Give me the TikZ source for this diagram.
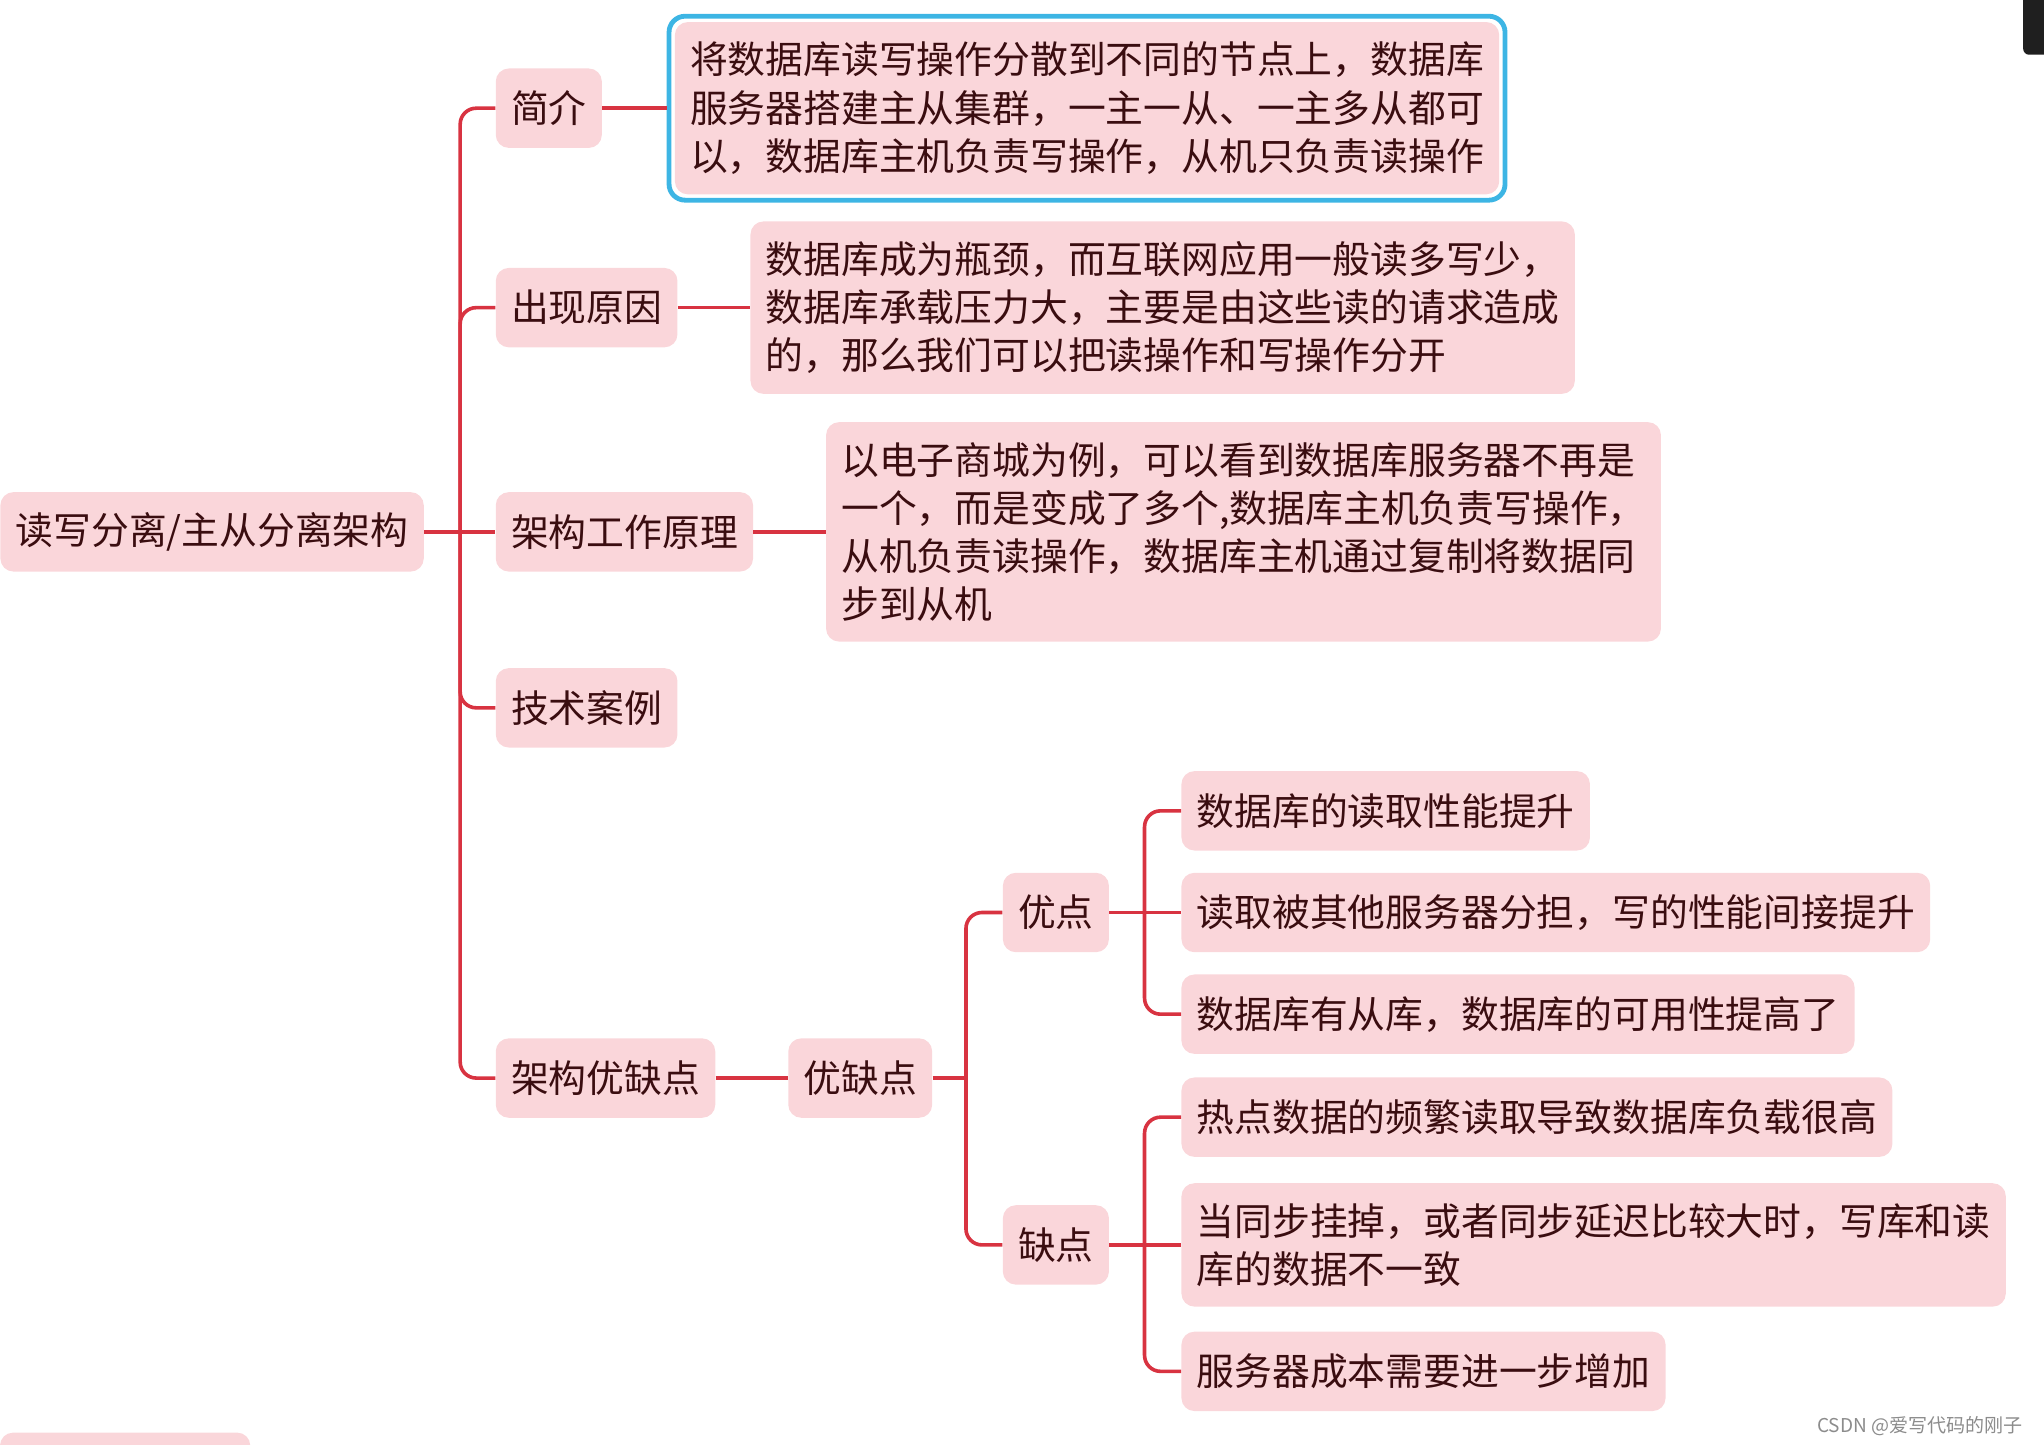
\documentclass[tikz,border=0pt]{standalone}
\usepackage{fontspec}
\newfontfamily\cjk{Noto Sans CJK SC}
\usetikzlibrary{positioning, fit}
\definecolor{mapPink}{HTML}{FAD6DA}
\definecolor{mapRed}{HTML}{D83341}
\definecolor{mapText}{HTML}{3A0D10}
\definecolor{selBlue}{HTML}{3DB5E4}
\definecolor{markGray}{HTML}{8C8C8C}

\begin{document}
\begin{tikzpicture}[x=0.65pt, y=-0.65pt,
    topic/.style={anchor=west, rounded corners=6.5pt, fill=mapPink, text=mapText,
      font=\cjk\fontsize{18.85pt}{24pt}\selectfont, align=left,
      inner xsep=7.6pt, inner ysep=10pt, minimum height=39.6pt},
    link/.style={mapRed, line width=1.8pt, rounded corners=8pt},
    sel/.style={draw=selBlue, line width=2.4pt, rounded corners=8pt, inner sep=2.7pt},
    wmark/.style={font=\cjk\fontsize{9.5pt}{11pt}\selectfont, text=markGray, anchor=east}]
  \useasboundingbox (0,0) rectangle (1568,1108);
  % root and first level
  \node[topic] (root) at (0,408) {读写分离/主从分离架构};
  \node[topic] (intro) at (380,83) {简介};
  \node[topic] (cause) at (380,236) {出现原因};
  \node[topic] (work) at (380,408) {架构工作原理};
  \node[topic] (case) at (380,543) {技术案例};
  \node[topic] (proscons) at (380,827) {架构优缺点};
  % notes
  \node[topic, right=36pt of intro] (introTxt) {将数据库读写操作分散到不同的节点上，数据库\\
    服务器搭建主从集群，一主一从、一主多从都可\\以，数据库主机负责写操作，从机只负责读操作};
  \node[sel, fit=(introTxt)] (introSel) {};
  \node[topic, right=36pt of cause] (causeTxt) {数据库成为瓶颈，而互联网应用一般读多写少，\\
    数据库承载压力大，主要是由这些读的请求造成\\的，那么我们可以把读操作和写操作分开};
  \node[topic, right=36pt of work] (workTxt) {以电子商城为例，可以看到数据库服务器不再是\\
    一个，而是变成了多个,数据库主机负责写操作，\\从机负责读操作，数据库主机通过复制将数据同\\步到从机};
  % pros and cons
  \node[topic, right=36pt of proscons] (pc) {优缺点};
  \node[topic] (pros) at (769,700) {优点};
  \node[topic] (cons) at (769,955) {缺点};
  \node[topic] (pro1) at (906,622) {数据库的读取性能提升};
  \node[topic] (pro2) at (906,700) {读取被其他服务器分担，写的性能间接提升};
  \node[topic] (pro3) at (906,778) {数据库有从库，数据库的可用性提高了};
  \node[topic] (con1) at (906,857) {热点数据的频繁读取导致数据库负载很高};
  \node[topic] (con2) at (906,955) {当同步挂掉，或者同步延迟比较大时，写库和读\\库的数据不一致};
  \node[topic] (con3) at (906,1052) {服务器成本需要进一步增加};
  % branch points
  \coordinate (j0) at (353,408);
  \coordinate (j1) at (741,827);
  \coordinate (j2) at (878,700);
  \coordinate (j3) at (878,955);
  \draw[link] (root.east) -- (work.west);
  \foreach \n in {intro,cause,case,proscons} \draw[link] (j0) |- (\n.west);
  \foreach \x/\y in {intro/introSel,cause/causeTxt,work/workTxt,proscons/pc,pros/pro2,cons/con2}
    \draw[link] (\x.east) -- (\y.west);
  \draw[link] (pc.east) -- (j1);
  \foreach \n in {pros,cons} \draw[link] (j1) |- (\n.west);
  \foreach \n in {pro1,pro3} \draw[link] (j2) |- (\n.west);
  \foreach \n in {con1,con3} \draw[link] (j3) |- (\n.west);
  % screen leftovers
  \fill[black!88, rounded corners=3pt] (1552,-10) rectangle (1578,42);
  \fill[mapPink, rounded corners=6.5pt] (0,1099) rectangle (192,1160);
  \node[wmark] (credit) at (1557,1094) {CSDN @爱写代码的刚子};
\end{tikzpicture}
\end{document}
